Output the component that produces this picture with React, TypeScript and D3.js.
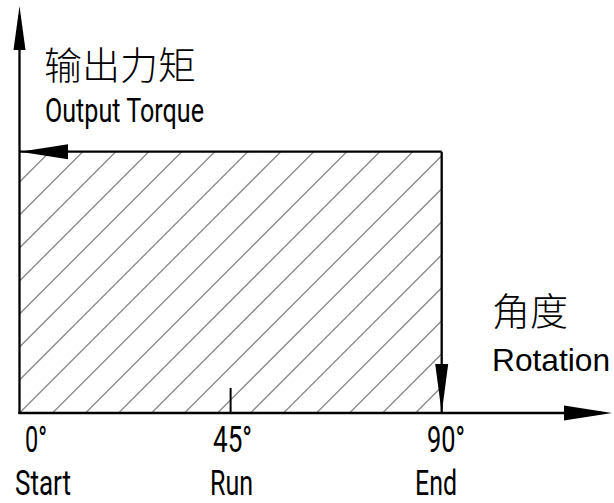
import React from "react";
import * as d3 from "d3";

// Data: rotation angles (degrees), their labels, and constant output torque (normalised)
const angles = [0, 45, 90];
const angleLabels = ["0°", "45°", "90°"];
const phaseLabels = ["Start", "Run", "End"];
const torque = [1, 1, 1];

const W = 614;
const H = 503;

const CJK = "'Noto Sans CJK SC', 'Noto Sans CJK JP', sans-serif";
const COND = "Roboto, 'Liberation Sans', sans-serif";
const SANS = "'Liberation Sans', Roboto, sans-serif";

export default function App() {
  const x = d3.scaleLinear().domain([0, 90]).range([19.5, 441.7]);
  const y = d3.scaleLinear().domain([0, 1]).range([413, 151.7]);

  const x0 = x(0);
  const y0 = y(0);
  const xEnd = x(126.3);
  const yTop = y(1.5575);

  const pts = angles.map((a, i) => [a, torque[i]] as [number, number]);
  const area = d3
    .area<[number, number]>()
    .x((d) => x(d[0]))
    .y0(y0)
    .y1((d) => y(d[1]));
  const outline = d3
    .line<[number, number]>()
    .x((d) => x(d[0]))
    .y((d) => y(d[1]));

  const rightX = x(angles[angles.length - 1]);
  const topY = y(torque[0]);

  // hatch lines (45°, 33px spacing, anchored at bottom-left corner)
  const spacing = 33;
  const c0 = x0 + y0;
  const hatch = d3.range(-20, 30).map((k) => c0 - spacing * k);

  const tri = (p: number[][]) => "M" + p.map((q) => q.join(",")).join("L") + "Z";

  const yArrow = tri([
    [x0, yTop],
    [x0 - 6, yTop + 44],
    [x0 + 6, yTop + 44],
  ]);
  const xArrow = tri([
    [xEnd, y0],
    [xEnd - 48, y0 - 7.5],
    [xEnd - 48, y0 + 7.5],
  ]);
  const leftArrow = tri([
    [x0 + 0.5, topY],
    [x0 + 48.5, topY - 7.5],
    [x0 + 48.5, topY + 7.5],
  ]);
  const downArrow = tri([
    [rightX, y0],
    [rightX - 6.5, y0 - 49],
    [rightX + 6.5, y0 - 49],
  ]);

  const angleDx = [16.5, 2, 4.3];
  const angleLen = [22, 39, 38];
  const phaseDx = [23.5, 1, -5.7];
  const phaseLen = [56, 43, 42];

  return (
    <div style={{ position: "fixed", left: 0, top: 0 }}>
      <svg width={W} height={H} viewBox={`0 0 ${W} ${H}`} style={{ display: "block", background: "#fff" }}>
        <defs>
          <clipPath id="areaClip">
            <path d={area(pts) || ""} />
          </clipPath>
        </defs>
        <g clipPath="url(#areaClip)">
          {hatch.map((c, i) => (
            <line key={i} x1={c - 600} y1={600} x2={c + 100} y2={-100} stroke="#888" strokeWidth={1.3} />
          ))}
        </g>
        <path d={outline(pts) || ""} fill="none" stroke="#000" strokeWidth={2.3} />
        <line x1={rightX} y1={topY} x2={rightX} y2={y0} stroke="#000" strokeWidth={2.3} />
        <line x1={x0} y1={y0 + 1} x2={x0} y2={yTop + 10} stroke="#000" strokeWidth={2.3} />
        <line x1={x0 - 1} y1={y0} x2={xEnd - 10} y2={y0} stroke="#000" strokeWidth={2.3} />
        <path d={yArrow} fill="#000" />
        <path d={xArrow} fill="#000" />
        <path d={leftArrow} fill="#000" />
        <path d={downArrow} fill="#000" />
        <line x1={x(45)} y1={y0} x2={x(45)} y2={y0 - 25} stroke="#000" strokeWidth={2} />

        <text x={44} y={79} fontFamily={CJK} fontSize={38} fontWeight={300} fill="#000">输出力矩</text>
        <text x={45} y={122} fontFamily={COND} fontSize={33} fill="#000" textLength={159} lengthAdjust="spacingAndGlyphs">
          Output Torque
        </text>
        <text x={492} y={324.5} fontFamily={CJK} fontSize={38} fontWeight={300} fill="#000">角度</text>
        <text x={492} y={371} fontFamily={SANS} fontSize={32} fill="#000" textLength={118} lengthAdjust="spacingAndGlyphs">
          Rotation
        </text>

        {angles.map((a, i) => (
          <g key={a}>
            <text
              x={x(a) + angleDx[i]}
              y={452}
              textAnchor="middle"
              fontFamily={COND}
              fontSize={36}
              fill="#000"
              textLength={angleLen[i]}
              lengthAdjust="spacingAndGlyphs"
            >
              {angleLabels[i]}
            </text>
            <text
              x={x(a) + phaseDx[i]}
              y={495}
              textAnchor="middle"
              fontFamily={COND}
              fontSize={35}
              fill="#000"
              textLength={phaseLen[i]}
              lengthAdjust="spacingAndGlyphs"
            >
              {phaseLabels[i]}
            </text>
          </g>
        ))}
      </svg>
    </div>
  );
}
